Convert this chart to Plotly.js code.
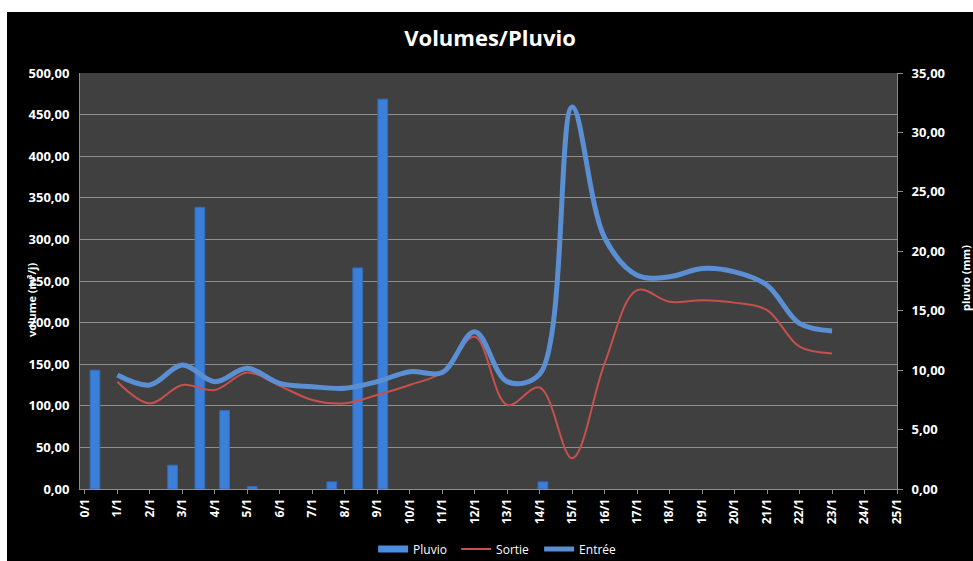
<!DOCTYPE html>
<html>
<head>
<meta charset="utf-8">
<script src="https://cdn.plot.ly/plotly-3.0.1.min.js"></script>
<style>
  html, body { margin: 0; padding: 0; background: #ffffff; width: 973px; height: 561px; overflow: hidden; }
  #chart { position: absolute; left: 7px; top: 12px; width: 966px; height: 549px; }
</style>
</head>
<body>
<div id="chart"></div>
<script>
// Day numbers (x) and labels
const dayTicks = [0,1,2,3,4,5,6,7,8,9,10,11,12,13,14,15,16,17,18,19,20,21,22,23,24,25];
const dayLabels = dayTicks.map(d => d + "/1");

// Rain gauge readings (time in days, mm)
const pluvioTime = [0.31, 2.7, 3.54, 4.3, 5.15, 7.6, 8.4, 9.17, 14.1];
const pluvio     = [10.0, 2.0, 23.7, 6.6, 0.2, 0.6, 18.6, 32.8, 0.6];

// Daily volumes (m3/j)
const volDays = [1,2,3,4,5,6,7,8,9,10,11,12,13,14,15,16,17,18,19,20,21,22,23];
const entree  = [137,125,149,129,145,127,123,121,129,141,140,189,129,138,459,302,257,255,265,261,245,199,190];
const sortie  = [129,103,125,119,140,124,107,103,113,125,140,183,101,122,37,151,239,225,227,224,215,171,163];

const volTicks = [0,50,100,150,200,250,300,350,400,450,500];
const pluvioTicks = [0,5,10,15,20,25,30,35];

const fontFam = "'Open Sans', 'Liberation Sans', sans-serif";
const barColor = '#3c7fd8';

const traces = [
  {
    type: 'bar', name: 'Pluvio', x: pluvioTime, y: pluvio, yaxis: 'y',
    width: 0.3, showlegend: false, legendgroup: 'pluvio',
    marker: { color: barColor, line: { color: '#2f6cc0', width: 1 } }
  },
  // legend entry for the bars (wide bar symbol as in the original)
  {
    type: 'scatter', mode: 'lines', name: 'Pluvio', x: [null], y: [null], yaxis: 'y',
    legendgroup: 'pluvio',
    line: { color: '#4a8ee0', width: 7 }
  },
  {
    type: 'scatter', mode: 'lines', name: 'Sortie', x: volDays, y: sortie, yaxis: 'y2',
    line: { color: '#c5504c', width: 2, shape: 'spline', smoothing: 1 }
  },
  {
    type: 'scatter', mode: 'lines', name: 'Entrée', x: volDays, y: entree, yaxis: 'y2',
    line: { color: '#5b8fd4', width: 5, shape: 'spline', smoothing: 1 }
  }
];

const layout = {
  width: 966, height: 549,
  paper_bgcolor: '#000000',
  plot_bgcolor: '#404040',
  separators: ', ',
  margin: { l: 73, r: 76, t: 61, b: 72 },
  font: { family: fontFam, color: '#ffffff', size: 10 },
  title: {
    text: '<b>Volumes/Pluvio</b>',
    font: { family: fontFam, size: 22, color: '#ffffff' },
    x: 0.5, xref: 'container', y: 1 - 26/549, yref: 'container', yanchor: 'middle'
  },
  showlegend: true,
  legend: {
    orientation: 'h', xref: 'container', yref: 'container',
    x: 0.379, xanchor: 'left', y: 1 - 537/549, yanchor: 'middle',
    font: { family: fontFam, size: 12, color: '#ffffff' },
    bgcolor: 'rgba(0,0,0,0)', traceorder: 'normal', itemwidth: 30, entrywidth: 38
  },
  bargap: 0,
  xaxis: {
    range: [-0.15, 25],
    tickmode: 'array', tickvals: dayTicks, ticktext: dayLabels,
    tickangle: -90,
    tickfont: { family: fontFam, size: 12, color: '#ffffff', weight: 'bold' },
    showgrid: false, zeroline: false,
    showline: true, linecolor: '#8c8c8c', linewidth: 1,
    ticks: 'outside', ticklen: 4, tickcolor: '#8c8c8c'
  },
  yaxis: {
    side: 'right',
    range: [0, 35],
    tickmode: 'array', tickvals: pluvioTicks, tickformat: '.2f',
    tickfont: { family: fontFam, size: 13, color: '#ffffff', weight: 'bold' },
    showgrid: false, zeroline: false,
    showline: true, linecolor: '#8c8c8c', linewidth: 1,
    ticks: 'outside', ticklen: 5, tickcolor: '#8c8c8c', ticklabelstandoff: 6
  },
  yaxis2: {
    overlaying: 'y', side: 'left',
    range: [0, 500],
    tickmode: 'array', tickvals: volTicks, tickformat: '.2f',
    tickfont: { family: fontFam, size: 13, color: '#ffffff', weight: 'bold' },
    showgrid: true, gridcolor: '#8e8e8e', gridwidth: 1,
    zeroline: false,
    showline: true, linecolor: '#8c8c8c', linewidth: 1, mirror: false,
    ticks: '', ticklen: 0, ticklabelstandoff: 7
  },
  annotations: [
    {
      text: '<b>volume (m³/j)</b>', textangle: -90,
      xref: 'paper', yref: 'paper', x: (24 - 73) / 817, y: (477 - 288) / 416,
      xanchor: 'center', yanchor: 'middle', showarrow: false,
      font: { family: fontFam, size: 11, color: '#ffffff' }
    },
    {
      text: '<b>pluvio (mm)</b>', textangle: -90,
      xref: 'paper', yref: 'paper', x: (958 - 73) / 817, y: (477 - 266) / 416,
      xanchor: 'center', yanchor: 'middle', showarrow: false,
      font: { family: fontFam, size: 11, color: '#ffffff' }
    }
  ]
};

Plotly.newPlot('chart', traces, layout, { displayModeBar: false, staticPlot: true });
</script>
</body>
</html>
